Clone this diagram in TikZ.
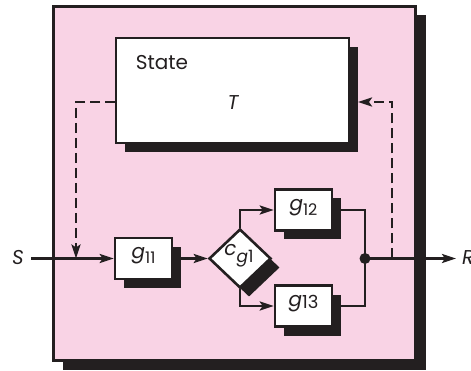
\documentclass[tikz,border=0pt]{standalone}
\usepackage{fontspec}
\setmainfont{Poppins}
\usetikzlibrary{shapes.geometric,shadows,arrows.meta}
\definecolor{pinkbg}{RGB}{249,211,229}
\definecolor{ink}{RGB}{35,31,32}
\begin{document}
\begin{tikzpicture}[x=1pt,y=-1pt,
  shbox/.style={draw=ink, fill=white, line width=2.6pt, inner sep=0pt,
    general shadow={fill=ink, shadow xshift=9pt, shadow yshift=-9pt}},
  gbox/.style={shbox, minimum width=57, minimum height=41},
  conn/.style={draw=ink, line width=2.6pt},
  arr/.style={conn, -{Stealth[length=14pt,width=9pt,inset=3pt]}},
  dsh/.style={arr, dash pattern=on 10pt off 5pt},
  lbl/.style={font=\fontsize{20}{22}\selectfont, text=ink, inner sep=0pt}]
\useasboundingbox (0,0) rectangle (471,371);
% outer frame
\node[shbox, fill=pinkbg, line width=3.2pt, minimum width=362, minimum height=354,
  general shadow={fill=ink, shadow xshift=10pt, shadow yshift=-9pt}] (frame) at (234.5,183.5) {};
% state box
\node[shbox, minimum width=233, minimum height=105] (state) at (232.5,90.5) {};
\node[lbl] (statelbl) at (162,63) {State};
\node[lbl] (Tlbl) at (233,103) {\itshape T};
% function boxes
\node[gbox] (g11) at (143.5,258.5) {};
\node[lbl] (g11l) at (143.5,256) {{\itshape g}\raisebox{-5pt}{\fontsize{16}{16}\selectfont 11}};
\node[gbox] (g12) at (303.5,210) {};
\node[lbl] (g12l) at (303.5,207.5) {{\itshape g}\raisebox{-5pt}{\fontsize{16}{16}\selectfont 12}};
\node[gbox] (g13) at (303.5,306) {};
\node[lbl] (g13l) at (303.5,304) {{\itshape g}\raisebox{-2pt}{\fontsize{18}{18}\selectfont 13}};
% decision diamond
\node[shbox, diamond, minimum width=62, minimum height=59] (cg) at (240,258.5) {};
\node[lbl] (cgl) at (239,256) {{\itshape c}\raisebox{-7pt}{\fontsize{17}{17}\selectfont\itshape g\upshape 1}};
% coordinates
\coordinate (sstart) at (31,258.5);
\coordinate (junc) at (365,258.5);
\coordinate (rend) at (456,258.5);
\coordinate (tap) at (392,258.5);
\coordinate (stin) at (358,102);
\coordinate (stout) at (115,102);
\coordinate (ltap) at (76,258.5);
% labels
\node[lbl, anchor=east] (S) at (24,258) {\itshape S};
\node[lbl, anchor=west] (R) at (462,258) {\itshape R};
% connectors
\draw[arr] (sstart) -- (g11.west);
\draw[arr] (g11.east) -- (cg.west);
\draw[arr] (cg.north) |- (g12.west);
\draw[arr] (cg.south) |- (g13.west);
\draw[conn] (g12.east) -| (junc);
\draw[conn] (g13.east) -| (junc);
\draw[arr] (junc) -- (rend);
\fill[ink] (junc) circle (5.5);
\draw[dsh] (tap) |- (stin);
\draw[dsh] (stout) -| (ltap);
\end{tikzpicture}
\end{document}
